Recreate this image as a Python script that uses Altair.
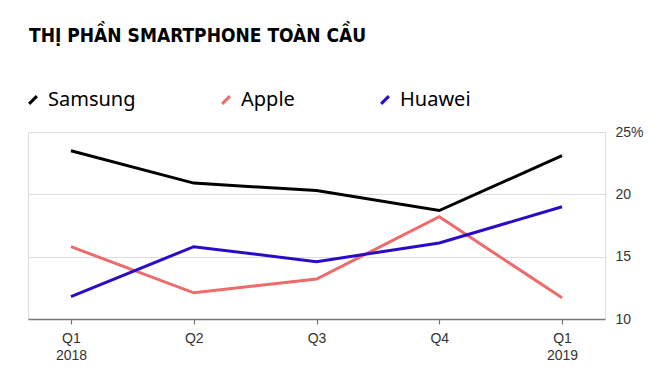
import altair as alt
import pandas as pd

quarters = ["Q1 2018", "Q2", "Q3", "Q4", "Q1 2019"]
samsung = [23.5, 20.9, 20.3, 18.7, 23.1]
apple = [15.8, 12.1, 13.2, 18.2, 11.7]
huawei = [11.8, 15.8, 14.6, 16.1, 19.0]
brands = ["Samsung", "Apple", "Huawei"]
colors = ["#000000", "#ee6b6b", "#2a0cc8"]
y_ticks = [10, 15, 20, 25]

rows = []
for b, vals in zip(brands, [samsung, apple, huawei]):
    for q, v in zip(quarters, vals):
        rows.append({"quarter": q, "brand": b, "share": v})
df = pd.DataFrame(rows)

chart = alt.Chart(df).mark_line(strokeWidth=3).encode(
    x=alt.X("quarter:N", sort=quarters, title=None,
            scale=alt.Scale(type="point", padding=0.35),
            axis=alt.Axis(labelAngle=0, labelExpr="split(datum.label, ' ')",
                          labelFont="Liberation Sans", labelFontSize=14, labelColor="#333333",
                          labelPadding=7, domainColor="#777777", domainWidth=1.5,
                          tickColor="#777777", tickSize=5, tickWidth=1.2, grid=False,
                          labelLineHeight=17)),
    y=alt.Y("share:Q", title=None,
            scale=alt.Scale(domain=[10, 25], nice=False, zero=False),
            axis=alt.Axis(orient="right", values=y_ticks, domain=False, ticks=False,
                          labelExpr="datum.value == 25 ? '25%' : datum.label",
                          labelFont="Liberation Sans", labelFontSize=14, labelColor="#333333",
                          labelPadding=10, gridColor="#dddddd", gridWidth=1.2)),
    color=alt.Color("brand:N", sort=brands,
                    scale=alt.Scale(domain=brands, range=colors),
                    legend=alt.Legend(title=None, orient="none", legendX=-5, legendY=-42,
                                      padding=0,
                                      direction="horizontal", symbolType="M-1,1L1,-1",
                                      symbolSize=60, symbolStrokeWidth=3,
                                      labelFont="Noto Sans", labelFontSize=20,
                                      labelColor="#000000", columnPadding=80,
                                      labelOffset=5, labelLimit=200)),
).properties(
    width=577, height=187,
    autosize=alt.AutoSizeParams(type="none"),
    title=alt.Title("THỊ PHẦN SMARTPHONE TOÀN CẦU", anchor="start", fontSize=19,
                    font="DejaVu Sans Condensed", fontWeight="bold", color="#000000",
                    offset=44, dx=6),
    padding={"left": 28, "top": 132, "right": 53, "bottom": 57},
).configure_view(stroke=None).configure(background="white")

chart.save("out.html", embed_options={"renderer": "svg", "actions": False})
